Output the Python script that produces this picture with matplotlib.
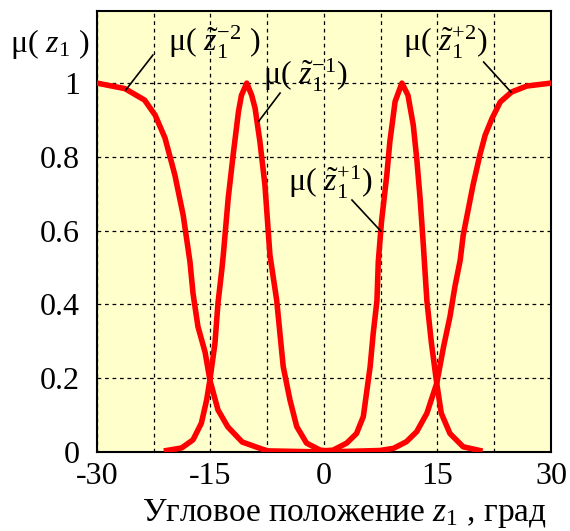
import matplotlib.pyplot as plt

plt.rcParams['font.family'] = ['Liberation Serif', 'DejaVu Serif']
plt.rcParams['mathtext.fontset'] = 'custom'
plt.rcParams['mathtext.rm'] = 'Liberation Serif'
plt.rcParams['mathtext.it'] = 'Liberation Serif:italic'
plt.rcParams['axes.unicode_minus'] = False

# membership functions mu(z1~^k), k = -2, -1, +1, +2
x_m2 = [-30, -26.3, -23.7, -22.3, -21.0, -19.7, -18.6, -17.7, -17.3, -16.65,
        -15.7, -15.07, -14.0, -12.7, -10.8, -8.2, -7.4, 0]
y_m2 = [1.0, 0.985, 0.954, 0.913, 0.851, 0.751, 0.642, 0.515, 0.43, 0.34,
        0.27, 0.195, 0.114, 0.068, 0.027, 0.008, 0.003, 0.0]

x_m1 = [-20.8, -18.8, -17.3, -16.2, -15.5, -15.07, -14.4, -14.0, -13.5, -13.3,
        -12.65, -12.0, -11.3, -10.9, -10.2, -9.55, -9.1, -8.46, -7.8, -7.14,
        -6.25, -5.38, -4.49, -3.6, -2.3, -0.5, 2.0]
y_m1 = [0.004, 0.011, 0.033, 0.078, 0.141, 0.195, 0.295, 0.404, 0.493, 0.534,
        0.688, 0.805, 0.922, 0.967, 1.0, 0.967, 0.932, 0.841, 0.724, 0.534,
        0.412, 0.231, 0.141, 0.069, 0.024, 0.005, 0.0]

x_p1 = [-2.0, 1.2, 3.0, 4.3, 5.2, 6.1, 6.5, 7.0, 7.18, 7.6, 8.3, 8.7, 9.4, 10.3,
        11.1, 11.8, 12.25, 12.7, 13.1, 13.6, 14.2, 14.9, 15.5, 16.65, 18.4, 20.6]
y_p1 = [0.0, 0.005, 0.024, 0.05, 0.096, 0.231, 0.32, 0.41, 0.516, 0.624, 0.75,
        0.84, 0.95, 1.0, 0.967, 0.886, 0.797, 0.688, 0.57, 0.41, 0.295, 0.186,
        0.105, 0.05, 0.014, 0.004]

x_p2 = [0, 7.4, 9.2, 10.9, 12.25, 13.6, 14.9, 15.8, 16.65, 17.3, 18.0, 18.4,
        19.7, 20.6, 21.3, 22.2, 23.3, 24.8, 26.8, 30]
y_p2 = [0.0, 0.004, 0.01, 0.028, 0.055, 0.105, 0.186, 0.285, 0.367, 0.448,
        0.52, 0.588, 0.724, 0.805, 0.859, 0.904, 0.949, 0.976, 0.992, 1.0]

xticks = [-30, -15, 0, 15, 30]
yticks = [0, 0.2, 0.4, 0.6, 0.8, 1.0]
ytick_labels = ['0', '0.2', '0.4', '0.6', '0.8', '1']

fig = plt.figure(figsize=(5.7, 5.31), dpi=100)
ax = fig.add_axes([0.170, 0.1488, 0.7967, 0.8302])
ax.set_facecolor('#ffffcc')

for xs, ys in [(x_m2, y_m2), (x_m1, y_m1), (x_p1, y_p1), (x_p2, y_p2)]:
    ax.plot(xs, ys, color='#ff0000', lw=4, solid_joinstyle='round', zorder=3)

ax.set_xlim(-30, 30)
ax.set_ylim(0, 1.195)
ax.set_xticks(xticks)
ax.set_xticks([-22.5, -7.5, 7.5, 22.5], minor=True)
ax.set_yticks(yticks)
ax.set_yticklabels(ytick_labels)
ax.tick_params(which='both', length=0, labelsize=23)
ax.tick_params(axis='y', pad=12)
ax.tick_params(axis='x', pad=7)
ax.grid(True, which='both', color='black', lw=0.9, linestyle=(0, (3, 3)))
for s in ax.spines.values():
    s.set_linewidth(1.5)
    s.set_color('black')

ax.set_xlabel('Угловое положение $z_1$ , град', fontsize=24)
ax.xaxis.set_label_coords(0.545, -0.102)
fig.text(0.018, 0.918, 'μ( $z_1$ )', fontsize=23, ha='left', va='center')

# labels with leader lines
lab_kw = dict(fontsize=23, ha='center', va='center', zorder=4)
ax.text(-14.5, 1.11, 'μ( $\\tilde{z}_1^{-2}$ )', **lab_kw)
ax.plot([-22.6, -26.2], [1.076, 0.981], color='black', lw=1.2, zorder=4)
ax.text(-2.5, 1.02, 'μ( $\\tilde{z}_1^{-1}$)', **lab_kw)
ax.plot([-5.8, -8.6], [0.973, 0.897], color='black', lw=1.2, zorder=4)
ax.text(0.8, 0.732, 'μ( $\\tilde{z}_1^{+1}$)', **lab_kw)
ax.plot([3.7, 7.5], [0.683, 0.599], color='black', lw=1.2, zorder=4)
ax.text(16.0, 1.111, 'μ( $\\tilde{z}_1^{+2}$)', **lab_kw)
ax.plot([21.1, 24.7], [1.057, 0.976], color='black', lw=1.2, zorder=4)

fig.savefig('out.png', dpi=100)
